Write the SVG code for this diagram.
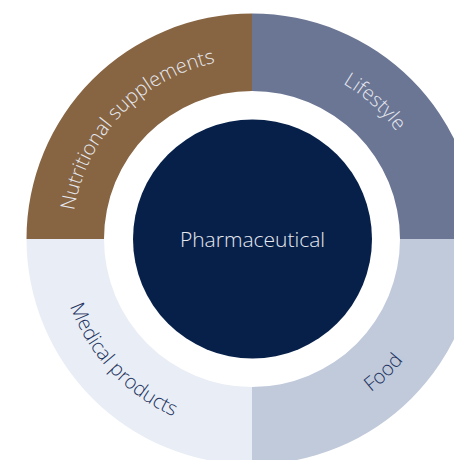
<svg xmlns="http://www.w3.org/2000/svg" xmlns:xlink="http://www.w3.org/1999/xlink" width="454" height="460" viewBox="0 0 454 460">
  <style>
    .lbl { font-family: "Open Sans", "Liberation Sans", sans-serif; font-size: 20px; font-weight: 300; }
    .light { fill: #e6e9f0; }
    .dark { fill: #1c3360; }
  </style>
  <defs>
    <path id="arcTL" d="M 72 239 A 180 180 0 0 1 252 59"/>
    <path id="arcTR" d="M 252 59 A 180 180 0 0 1 432 239"/>
    <path id="arcBL" d="M 58 239 A 194 194 0 0 0 252 433"/>
    <path id="arcBR" d="M 252 433 A 194 194 0 0 0 446 239"/>
  </defs>
  <rect width="454" height="460" fill="#ffffff"/>
  <g id="nutritional">
    <path d="M 26.5 239 A 225.5 225.5 0 0 1 252 13.5 L 252 91 A 148 148 0 0 0 104 239 Z" fill="#876442"/>
    <text class="lbl light"><textPath href="#arcTL" xlink:href="#arcTL" startOffset="48.5%" text-anchor="middle">Nutritional supplements</textPath></text>
  </g>
  <g id="lifestyle">
    <path d="M 252 13.5 A 225.5 225.5 0 0 1 477.5 239 L 400 239 A 148 148 0 0 0 252 91 Z" fill="#6b7594"/>
    <text class="lbl light"><textPath href="#arcTR" xlink:href="#arcTR" startOffset="46.5%" text-anchor="middle">Lifestyle</textPath></text>
  </g>
  <g id="food">
    <path d="M 477.5 239 A 225.5 225.5 0 0 1 252 464.5 L 252 387 A 148 148 0 0 0 400 239 Z" fill="#c1cadb"/>
    <text class="lbl dark"><textPath href="#arcBR" xlink:href="#arcBR" startOffset="49.5%" text-anchor="middle">Food</textPath></text>
  </g>
  <g id="medical">
    <path d="M 252 464.5 A 225.5 225.5 0 0 1 26.5 239 L 104 239 A 148 148 0 0 0 252 387 Z" fill="#e9edf5"/>
    <text class="lbl dark"><textPath href="#arcBL" xlink:href="#arcBL" startOffset="48%" text-anchor="middle">Medical products</textPath></text>
  </g>
  <g id="pharmaceutical">
    <circle cx="252.5" cy="239" r="119.5" fill="#06204a"/>
    <text class="lbl light" x="252.5" y="246.5" text-anchor="middle" style="font-size:21px">Pharmaceutical</text>
  </g>
  <g id="connectors"></g>
</svg>
